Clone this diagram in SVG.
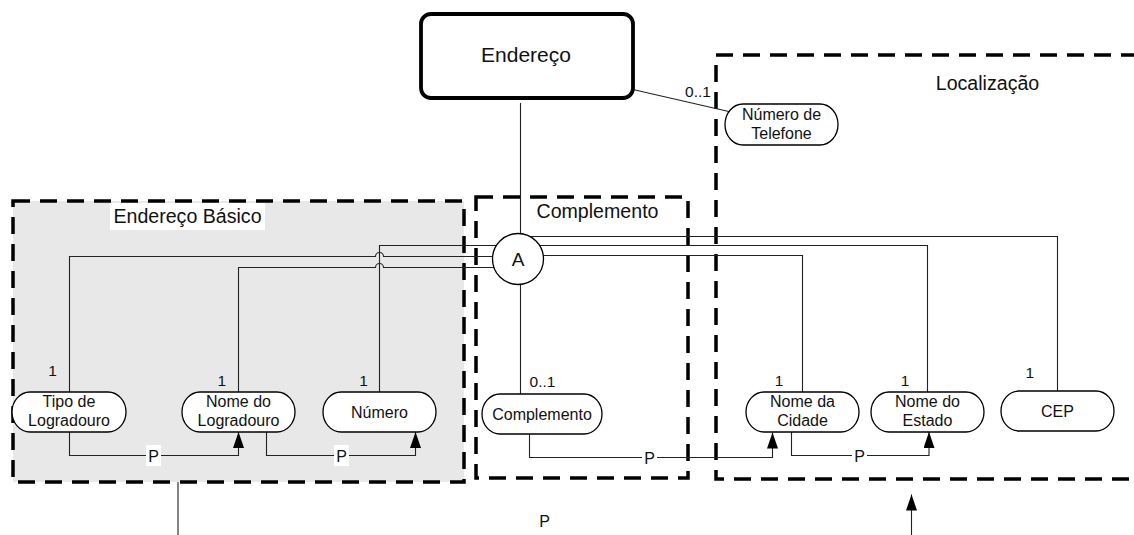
<svg xmlns="http://www.w3.org/2000/svg" width="1134" height="535" viewBox="0 0 1134 535">
  <style>
    text { font-family: "Liberation Sans", Arial, sans-serif; fill: #111; }
    .group-box { fill: none; stroke: #000; stroke-width: 3.5; stroke-dasharray: 17 10; }
    .group-label { font-size: 19.6px; }
    .attr { fill: #fff; stroke: #000; stroke-width: 1.3; }
    .attr-text { font-size: 16px; text-anchor: middle; }
    .card { font-size: 15.5px; text-anchor: middle; }
    .link { fill: none; stroke: #222; stroke-width: 1.1; }
    .plabel { font-size: 16px; text-anchor: middle; }
    .pbg { fill: #fff; }
  </style>
  <defs>
    <marker id="arrow" markerUnits="userSpaceOnUse" markerWidth="17" markerHeight="12" refX="16" refY="5.5" orient="auto" viewBox="0 0 17 12">
      <path d="M0,0 L16,5.5 L0,11 z" fill="#000"/>
    </marker>
  </defs>

  <!-- grouping boxes -->
  <g id="group-endereco-basico">
    <rect x="13" y="201" width="451" height="281" fill="#e8e8e8" stroke="#000" stroke-width="3.5" stroke-dasharray="17 10"/>
    <rect x="110" y="203" width="155" height="27" fill="#fff"/>
    <text class="group-label" x="187.5" y="223" text-anchor="middle">Endereço Básico</text>
  </g>
  <g id="group-complemento">
    <rect class="group-box" x="476" y="197" width="212" height="281"/>
    <text class="group-label" x="597.5" y="218" text-anchor="middle">Complemento</text>
  </g>
  <g id="group-localizacao">
    <rect class="group-box" x="716" y="55" width="440" height="424"/>
    <text class="group-label" x="987.5" y="90" text-anchor="middle">Localização</text>
  </g>

  <!-- connectors -->
  <g id="connectors">
    <!-- Endereço to aggregation and Complemento -->
    <path class="link" d="M520.5,103 V394"/>
    <!-- Endereço to Número de Telefone -->
    <path class="link" d="M628.5,88.5 L731,112"/>
    <!-- attribute links into A -->
    <path class="link" d="M379.5,392 V245.5 H927.5 V392"/>
    <path class="link" d="M69.5,392 V256.5 H375.5 a4,4 0 0 1 8,0 H518"/>
    <path class="link" d="M238.5,392 V267.5 H375.5 a4,4 0 0 1 8,0 H518"/>
    <path class="link" d="M518,236.5 H1057.5 V391"/>
    <path class="link" d="M518,255.5 H802.5 V392"/>
    <!-- precedence links -->
    <path class="link" d="M69.5,432 V455.5 H238.5 V432" marker-end="url(#arrow)"/>
    <path class="link" d="M266.5,432 V455.5 H415.5 V432" marker-end="url(#arrow)"/>
    <path class="link" d="M529.5,434 V457.5 H772.5 V432.5" marker-end="url(#arrow)"/>
    <path class="link" d="M791.5,432 V455.5 H929 V432" marker-end="url(#arrow)"/>
    <!-- lines leaving the groups -->
    <path class="link" d="M178,482 V535"/>
    <path class="link" d="M911.5,535 V494.5" marker-end="url(#arrow)"/>
    <!-- P labels -->
    <rect class="pbg" x="146" y="445" width="15" height="21"/>
    <text class="plabel" x="153.5" y="461.5">P</text>
    <rect class="pbg" x="334" y="445" width="15" height="21"/>
    <text class="plabel" x="341.5" y="461.5">P</text>
    <rect class="pbg" x="642" y="447" width="15" height="21"/>
    <text class="plabel" x="649.5" y="463.5">P</text>
    <rect class="pbg" x="852" y="445" width="15" height="21"/>
    <text class="plabel" x="859.5" y="461.5">P</text>
    <text class="plabel" x="544.5" y="527">P</text>
    <!-- cardinalities -->
    <text class="card" x="698" y="96.7">0..1</text>
    <text class="card" x="52.5" y="375.7">1</text>
    <text class="card" x="221.7" y="386">1</text>
    <text class="card" x="363.5" y="386">1</text>
    <text class="card" x="542.5" y="386.7">0..1</text>
    <text class="card" x="779" y="385.7">1</text>
    <text class="card" x="905" y="386">1</text>
    <text class="card" x="1029.7" y="378.3">1</text>
  </g>

  <!-- entity -->
  <g id="node-endereco">
    <rect x="421" y="14" width="212" height="84" rx="10" ry="10" fill="#fff" stroke="#000" stroke-width="3.8"/>
    <text x="526" y="62" font-size="21px" text-anchor="middle">Endereço</text>
  </g>

  <!-- aggregation -->
  <g id="node-a">
    <circle cx="518" cy="259" r="25.5" fill="#fff" stroke="#000" stroke-width="1.3"/>
    <text x="518" y="266" font-size="19px" text-anchor="middle">A</text>
  </g>

  <!-- attributes -->
  <g id="node-telefone">
    <rect class="attr" x="725" y="104" width="113" height="41" rx="18" ry="20.5"/>
    <text class="attr-text" x="781.5" y="119.5">Número de</text>
    <text class="attr-text" x="781.5" y="138.5">Telefone</text>
  </g>
  <g id="node-tipo-logradouro">
    <rect class="attr" x="12" y="392" width="114" height="40" rx="18" ry="20"/>
    <text class="attr-text" x="69" y="407">Tipo de</text>
    <text class="attr-text" x="69" y="426">Logradouro</text>
  </g>
  <g id="node-nome-logradouro">
    <rect class="attr" x="182" y="392" width="113" height="40" rx="18" ry="20"/>
    <text class="attr-text" x="238.5" y="407">Nome do</text>
    <text class="attr-text" x="238.5" y="426">Logradouro</text>
  </g>
  <g id="node-numero">
    <rect class="attr" x="323" y="392" width="113" height="40" rx="18" ry="20"/>
    <text class="attr-text" x="379.5" y="417.5">Número</text>
  </g>
  <g id="node-complemento">
    <rect class="attr" x="482" y="394" width="120" height="40" rx="18" ry="20"/>
    <text class="attr-text" x="542" y="419.5">Complemento</text>
  </g>
  <g id="node-nome-cidade">
    <rect class="attr" x="746" y="392" width="113" height="40" rx="18" ry="20"/>
    <text class="attr-text" x="802.5" y="407">Nome da</text>
    <text class="attr-text" x="802.5" y="426">Cidade</text>
  </g>
  <g id="node-nome-estado">
    <rect class="attr" x="871" y="392" width="113" height="40" rx="18" ry="20"/>
    <text class="attr-text" x="927.5" y="407">Nome do</text>
    <text class="attr-text" x="927.5" y="426">Estado</text>
  </g>
  <g id="node-cep">
    <rect class="attr" x="1001" y="391" width="113" height="40" rx="18" ry="20"/>
    <text class="attr-text" x="1057.5" y="416.5">CEP</text>
  </g>
</svg>
